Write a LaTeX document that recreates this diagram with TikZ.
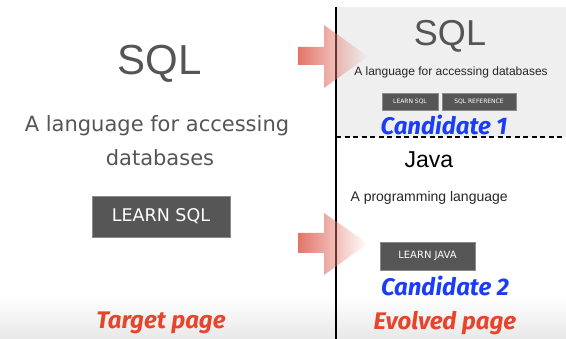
\documentclass[tikz,border=0pt]{standalone}
\usepackage{fontspec}
\setmainfont{Liberation Sans}
\newfontfamily\tahfont{DejaVu Sans}
\newfontfamily\candfont{Fira Sans}
\usetikzlibrary{fadings}
\definecolor{txtgray}{HTML}{555555}
\definecolor{btngray}{HTML}{565656}
\definecolor{btnedge}{HTML}{8A8A8A}
\definecolor{panelgray}{HTML}{EFEFEF}
\definecolor{candblue}{HTML}{1A3DF5}
\definecolor{pagered}{HTML}{E8432B}
\definecolor{arrowred}{HTML}{E27569}
\tikzset{
  btn/.style={fill=btngray, draw=btnedge, line width=0.6pt, text=white, inner sep=0pt, anchor=center},
  cand/.style={text=candblue, font=\candfont\bfseries\itshape\fontsize{#1}{#1}\selectfont},
  pagelbl/.style={text=pagered, font=\candfont\bfseries\itshape\fontsize{#1}{#1}\selectfont},
  bigarrow/.style={fill=arrowred, path fading=east}
}
\begin{document}
\begin{tikzpicture}[x=1pt,y=-1pt]
\useasboundingbox (0,0) rectangle (566,339);
% bottom gradient band
\shade[top color=white, bottom color=black!9] (0,296) rectangle (566,339);
% candidate 1 panel
\fill[panelgray] (336,7) rectangle (566,137);
\draw[line width=1.2pt, dash pattern=on 5pt off 3.5pt] (336,137) -- (566,137);
\draw[line width=1.2pt] (336,7) -- (336,339);

% target page
\node[text=txtgray, font=\fontsize{42}{42}\selectfont] (tsql) at (160,64) {SQL};
\node[text=txtgray, font=\tahfont\fontsize{21}{21}\selectfont] (tdesc1) at (157,126) {A language for accessing};
\node[text=txtgray, font=\tahfont\fontsize{21}{21}\selectfont] (tdesc2) at (160,158) {databases};
\node[btn, minimum width=138pt, minimum height=41pt, font=\tahfont\fontsize{17.5}{17.5}\selectfont] (tbtn) at (161,216.5) {LEARN SQL};
\node[pagelbl=24] (tlbl) at (161,323) {Target page};

% candidate 1
\node[text=txtgray, font=\fontsize{36}{36}\selectfont] (csql) at (450,36) {SQL};
\node[text=black!85, font=\fontsize{12}{12}\selectfont] (cdesc) at (451,72) {A language for accessing databases};
\node[btn, minimum width=56pt, minimum height=17pt, font=\tahfont\fontsize{6}{6}\selectfont] (cb1) at (410,101.5) {LEARN SQL};
\node[btn, minimum width=74pt, minimum height=17pt, font=\tahfont\fontsize{6}{6}\selectfont] (cb2) at (479,101.5) {SQL REFERENCE};
\node[cand=24] (c1) at (444,125) {Candidate 1};

% candidate 2
\node[text=black, font=\fontsize{23}{23}\selectfont] (java) at (429,160) {Java};
\node[text=black!85, font=\fontsize{14}{14}\selectfont, anchor=west] (jdesc) at (347,198) {A programming language};
\node[btn, minimum width=95pt, minimum height=28pt, font=\tahfont\fontsize{10}{10}\selectfont] (jbtn) at (427.5,256) {LEARN JAVA};
\node[cand=24] (c2) at (445,286) {Candidate 2};
\node[pagelbl=24] (elbl) at (445,323) {Evolved page};

% arrows
\fill[bigarrow] (298,47) -- (324,47) -- (324,25) -- (368,56.5) -- (324,88) -- (324,65) -- (298,65) -- cycle;
\fill[bigarrow] (298,233) -- (324,233) -- (324,213) -- (368,243.5) -- (324,275) -- (324,253) -- (298,253) -- cycle;
\end{tikzpicture}
\end{document}
